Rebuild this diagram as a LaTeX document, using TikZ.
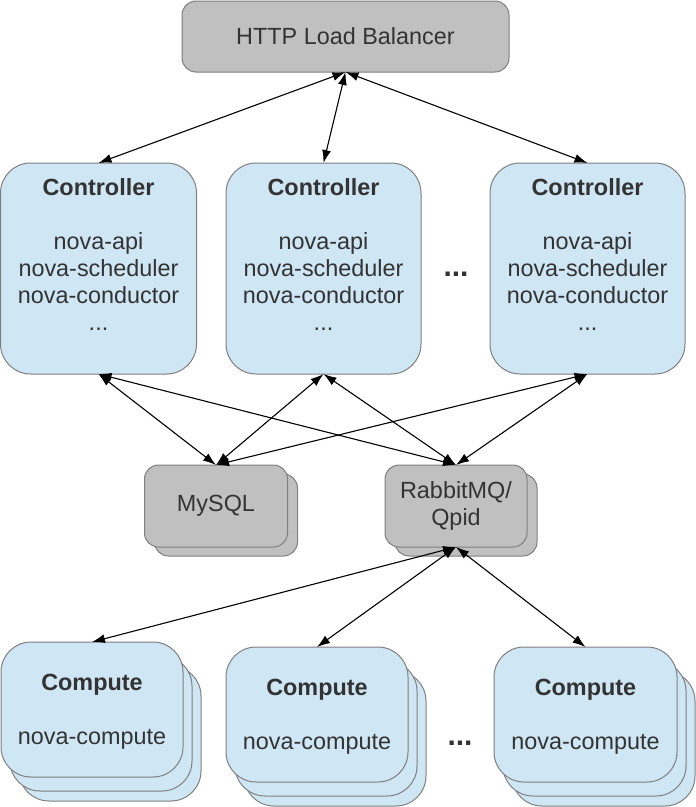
\documentclass[tikz,border=0pt]{standalone}
\usepackage{fontspec}
\setmainfont{Liberation Sans}
\usetikzlibrary{arrows.meta,calc}
\definecolor{boxblue}{HTML}{CFE6F4}
\definecolor{boxgray}{HTML}{C0C0C0}
\definecolor{edgegray}{HTML}{7F7F7F}
\definecolor{txt}{HTML}{333333}
\tikzset{
  base/.style={draw=edgegray, line width=1pt, inner sep=0pt, outer sep=0pt, text=txt,
    align=center, font=\fontsize{23.4}{27}\selectfont},
  bluebox/.style={base, fill=boxblue, rounded corners=30pt},
  graybox/.style={base, fill=boxgray, rounded corners=14pt},
  link/.style={{Latex[length=13pt,width=9pt]}-{Latex[length=13pt,width=9pt]}, line width=1.1pt, black},
  dots/.style={text=txt, font=\fontsize{30}{27}\selectfont\bfseries, inner sep=0pt}
}
\begin{document}
\begin{tikzpicture}[x=1pt,y=-1pt]
\useasboundingbox (0,0) rectangle (696,807);
% Load balancer
\node[graybox, minimum width=327pt, minimum height=71pt] (lb) at (345.5,36.5) {HTTP Load Balancer};
% Controllers
\foreach \n/\cx/\w in {c1/98.5/196, c2/323.5/195, c3/587.5/195}{
  \node[bluebox, minimum width=\w pt, minimum height=211pt] (\n) at (\cx,268.5) {};
  \node[text=txt, align=center, inner sep=0pt, font=\fontsize{23.4}{27}\selectfont] (\n t) at (\cx,255)
    {\textbf{Controller}\\[27pt]nova-api\\nova-scheduler\\nova-conductor\\...};
}
\node[dots] (cdots) at (456,274) {...};
% MySQL and RabbitMQ stacks
\node[graybox, minimum width=143pt, minimum height=82pt] (dbback) at (226,515) {};
\node[graybox, minimum width=143pt, minimum height=82pt] (db) at (216,506) {MySQL};
\node[graybox, minimum width=142pt, minimum height=82pt] (mqback) at (466,515) {};
\node[graybox, minimum width=142pt, minimum height=82pt] (mq) at (456,506) {RabbitMQ/\\Qpid};
% Compute stacks
\foreach \n/\cx/\cy/\w in {k1/92/709.5/182, k2/317/714.5/182, k3/585.5/714.5/183}{
  \node[bluebox, minimum width=\w pt, minimum height=135pt] (\n b2) at ($(\cx,\cy)+(18,24)$) {};
  \node[bluebox, minimum width=\w pt, minimum height=135pt] (\n b1) at ($(\cx,\cy)+(9,14)$) {};
  \node[bluebox, minimum width=\w pt, minimum height=135pt] (\n) at (\cx,\cy) {};
  \node[text=txt, align=center, inner sep=0pt, font=\fontsize{23.4}{27}\selectfont] (\n t) at ($(\cx,\cy)+(0,2)$)
    {\textbf{Compute}\\[27pt]nova-compute};
}
\node[dots] (kdots) at (460,743) {...};
% Links
\foreach \c in {c1,c2,c3}{
  \draw[link] (lb.south) -- (\c.north);
  \draw[link] (\c.south) -- (db.north);
  \draw[link] (\c.south) -- (mq.north);
}
\foreach \k in {k1,k2,k3}{
  \draw[link] (mq.south) -- (\k.north);
}
\end{tikzpicture}
\end{document}
